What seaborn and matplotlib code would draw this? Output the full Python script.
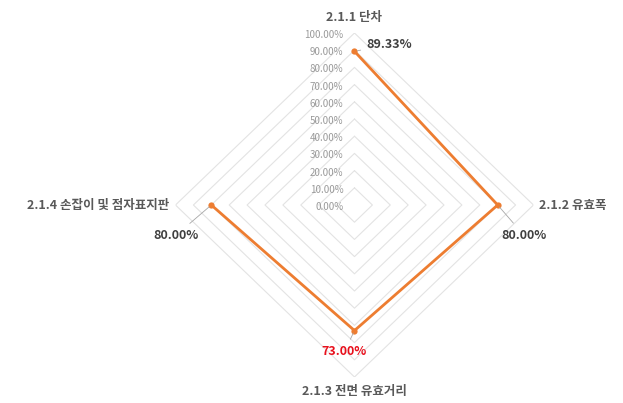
import numpy as np
import pandas as pd
import matplotlib
matplotlib.use("Agg")
import matplotlib.pyplot as plt
import seaborn as sns

categories = ["2.1.1 단차", "2.1.2 유효폭", "2.1.3 전면 유효거리", "2.1.4 손잡이 및 점자표지판"]
values = [89.33, 80.00, 73.00, 80.00]
label_colors = ["#404040", "#404040", "#e8101c", "#404040"]
grid_levels = [10, 20, 30, 40, 50, 60, 70, 80, 90, 100]
tick_labels = ["0.00%", "10.00%", "20.00%", "30.00%", "40.00%", "50.00%",
               "60.00%", "70.00%", "80.00%", "90.00%", "100.00%"]

sns.set_theme(style="white")
plt.rcParams["font.family"] = ["Noto Sans CJK KR", "DejaVu Sans"]

n = len(categories)
angles = np.arange(n) * 2 * np.pi / n
closed_angles = np.append(angles, angles[0])

fig = plt.figure(figsize=(6.23, 4.03), dpi=100)
ax = fig.add_axes([0.2817, 0.0645, 0.5746, 0.8536], projection="polar")
ax.set_aspect("auto")
ax.set_theta_zero_location("N")
ax.set_theta_direction(-1)
ax.set_ylim(0, 100)
ax.grid(False)
ax.set_xticks([])
ax.set_yticks([])
ax.spines["polar"].set_visible(False)
ax.set_facecolor("none")

# diamond-shaped grid rings
for lvl in grid_levels:
    ax.plot(closed_angles, [lvl] * (n + 1), color="#e3e3e3", lw=0.8, zorder=1)

# radial value labels along the top spoke
for i, txt in enumerate(tick_labels):
    ax.annotate(txt, xy=(0, i * 10), xytext=(-11, -2), textcoords="offset pixels",
                ha="right", va="center", fontsize=7, color="#9a9a9a", zorder=2)

df = pd.DataFrame({"theta": closed_angles, "value": values + [values[0]]})
sns.lineplot(data=df, x="theta", y="value", sort=False, ax=ax, color="#ED7D31",
             lw=2.0, marker="o", markersize=4.5, markeredgewidth=0, zorder=3)
ax.set_xlabel("")
ax.set_ylabel("")
ax.set_xticks([])
ax.set_yticks([])
ax.set_ylim(0, 100)

# value labels with leader lines
offsets = [(35, 7), (26, -30), (-10, -21), (-35, -30)]
for ang, v, c, off in zip(angles, values, label_colors, offsets):
    ax.annotate(f"{v:.2f}%", xy=(ang, v), xytext=off, textcoords="offset pixels",
                ha="center", va="center", fontsize=9, fontweight="bold", color=c,
                arrowprops=dict(arrowstyle="-", color="#a6a6a6", lw=0.6,
                                shrinkA=2, shrinkB=2), zorder=4)

# category labels around the chart
cat_pos = [((0, 100), (0, 16), "center"), ((angles[1], 100), (6, 0), "left"),
           ((angles[2], 100), (0, -14), "center"), ((angles[3], 100), (-6, 0), "right")]
for name, (xy, off, ha) in zip(categories, cat_pos):
    ax.annotate(name, xy=xy, xytext=off, textcoords="offset pixels",
                ha=ha, va="center", fontsize=9, fontweight="bold", color="#595959")

fig.savefig("out.png", dpi=100, facecolor="white")
